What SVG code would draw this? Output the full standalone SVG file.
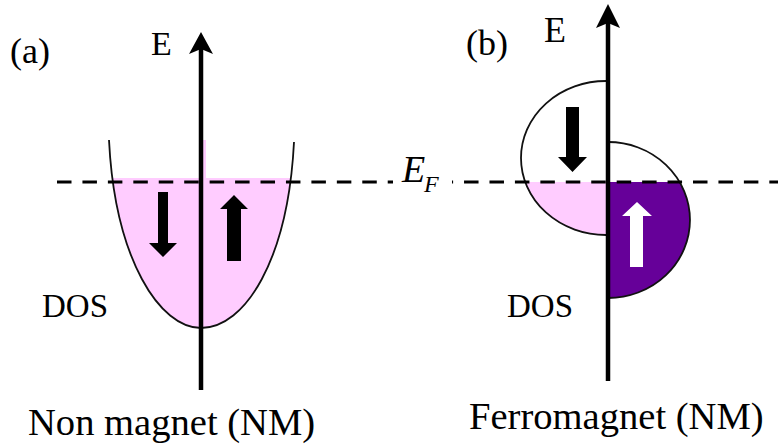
<svg xmlns="http://www.w3.org/2000/svg" width="778" height="448" viewBox="0 0 778 448">
<style>
  text { font-family: "Liberation Serif", "Times New Roman", "DejaVu Serif", serif; fill: #000; }
  .axis { stroke: #000; stroke-width: 4.5; fill: none; }
  .head { fill: #000; }
  .outline { fill: none; stroke: #111; stroke-width: 1.8; }
  .pink { fill: #ffccff; }
  .purple { fill: #660099; }
  .dash { stroke: #000; stroke-width: 3.2; stroke-dasharray: 14.5 10.94; fill: none; }
</style>
<defs>
  <clipPath id="belowA"><rect x="0" y="178" width="400" height="270"/></clipPath>
  <clipPath id="belowB"><rect x="400" y="182" width="378" height="266"/></clipPath>
</defs>
<rect width="778" height="448" fill="#fff"/>

<!-- Panel (a) -->
<g id="nm-band">
  <path class="pink" clip-path="url(#belowA)" d="M109,140 C115,260 160,328 201,328 C245,328 288,260 294,142 Z"/>
  <rect class="pink" x="203" y="140" width="3" height="38"/>
  <path class="outline" stroke-width="1.5" d="M109,140 C115,260 160,328 201,328 C245,328 288,260 294,142"/>
</g>

<!-- Panel (b) -->
<g id="fm-down-band">
  <path d="M606,81 A85,77 0 0 0 606,235 Z" fill="#fff"/>
  <path class="pink" clip-path="url(#belowB)" d="M606,81 A85,77 0 0 0 606,235 Z"/>
  <path class="outline" d="M606,81 A85,77 0 0 0 606,235"/>
</g>
<g id="fm-up-band">
  <path d="M608,142 A82,78 0 0 1 608,298 Z" fill="#fff"/>
  <path class="purple" clip-path="url(#belowB)" d="M608,142 A82,78 0 0 1 608,298 Z"/>
  <path class="outline" d="M608,142 A82,78 0 0 1 608,298"/>
</g>

<g id="fermi-level">
  <line class="dash" x1="57" y1="182" x2="393" y2="182"/>
  <line class="dash" x1="452" y1="182" x2="778" y2="182" stroke-dashoffset="13.4"/>
  <text font-style="italic" font-size="38" x="402" y="182">E</text>
  <text font-style="italic" font-size="24" x="424" y="192">F</text>
</g>

<g id="connectors">
  <line class="axis" x1="201" y1="48" x2="201" y2="390"/>
  <polygon class="head" points="201,32 213,54 201,49 189,54"/>
  <line class="axis" x1="608" y1="22" x2="608" y2="381"/>
  <polygon class="head" points="608,4 620,28 608,23 596,28"/>
</g>

<g id="spin-arrows-a">
  <polygon class="head" points="158,192 168,192 168,243 177,243 163,257 149,243 158,243"/>
  <polygon class="head" points="234,195 248,209 241,209 241,261 227,261 227,209 220,209"/>
</g>
<g id="spin-arrows-b">
  <polygon class="head" points="566,107 579,107 579,157 587,157 572.5,172 558,157 566,157"/>
  <polygon fill="#fff" points="637,202 652,216 643,216 643,267 630,267 630,216 622,216"/>
</g>

<g id="labels">
  <text x="10" y="63" font-size="36">(a)</text>
  <text x="151" y="55" font-size="34">E</text>
  <text x="466" y="55" font-size="36">(b)</text>
  <text x="544" y="42" font-size="36">E</text>
  <text x="42" y="317" font-size="33">DOS</text>
  <text x="507" y="317" font-size="33">DOS</text>
  <text x="28" y="435" font-size="38.6">Non magnet (NM)</text>
  <text x="469" y="429" font-size="38.6">Ferromagnet (NM)</text>
</g>
</svg>
